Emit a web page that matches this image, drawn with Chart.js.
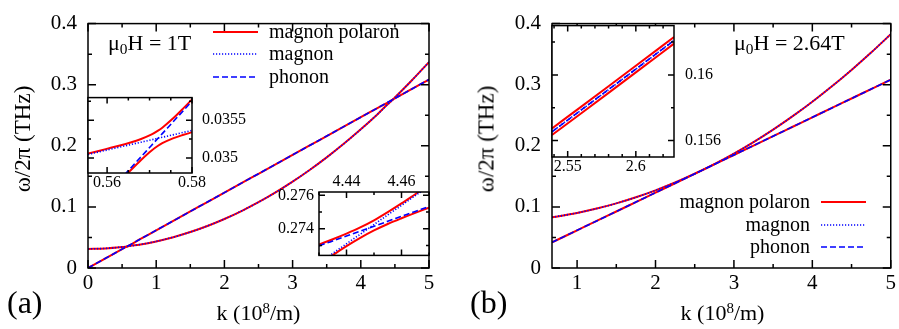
<!DOCTYPE html>
<html>
<head>
<meta charset="utf-8">
<script src="https://cdn.jsdelivr.net/npm/chart.js@4.4.0/dist/chart.umd.min.js"></script>
<style>
  html, body { margin: 0; padding: 0; background: #fff; }
  body { position: relative; width: 899px; height: 329px; overflow: hidden; font-family: 'Liberation Serif'; color: #000; }
  canvas { position: absolute; }
  .txt { position: absolute; white-space: nowrap; line-height: 1; font-family: 'Liberation Serif'; }
  .ytitle { transform: translate(-50%, -50%) rotate(-90deg); font-size: 23px; }
  .xtitle { transform: translateX(-50%); font-size: 22px; }
  .sup { position: relative; top: -0.45em; font-size: 0.68em; }
  .sub { position: relative; top: 0.3em; font-size: 0.7em; }
  .panel { font-size: 32px; }
  .field { font-size: 22px; }
</style>
</head>
<body>
<canvas id="mainA" width="449" height="329" style="left:0;top:0"></canvas>
<canvas id="insetA1" width="175" height="115" style="left:80px;top:78px"></canvas>
<canvas id="insetA2" width="170" height="105" style="left:270px;top:165px"></canvas>
<canvas id="mainB" width="450" height="329" style="left:449px;top:0"></canvas>
<canvas id="insetB1" width="190" height="180" style="left:545px;top:5px"></canvas>

<div class="txt ytitle" style="left:22px;top:139px">ω/2π (THz)</div>
<div class="txt ytitle" style="left:486px;top:139px">ω/2π (THz)</div>
<div class="txt xtitle" style="left:258.5px;top:301.6px">k (10<span class="sup">8</span>/m)</div>
<div class="txt xtitle" style="left:722.5px;top:301.6px">k (10<span class="sup">8</span>/m)</div>
<div class="txt panel" style="left:7px;top:286px">(a)</div>
<div class="txt panel" style="left:470px;top:286px">(b)</div>
<div class="txt field" style="left:108px;top:31.6px">μ<span class="sub">0</span>H = 1T</div>
<div class="txt field" style="left:734px;top:31.6px">μ<span class="sub">0</span>H = 2.64T</div>

<script>
// ---------- panel (a): μ0H = 1 T ----------
const kA = [0, 0.25, 0.5, 0.5722, 0.75, 1, 1.25, 1.5, 1.75, 2, 2.25, 2.5, 2.75, 3, 3.25, 3.5, 3.75, 4, 4.25, 4.4728, 4.5, 4.75, 5];
const magnonA = [0.0313, 0.03206, 0.03436, 0.0353, 0.03818, 0.04353, 0.05041, 0.05882, 0.06875, 0.08022, 0.09321, 0.10774, 0.12379, 0.14137, 0.16048, 0.18112, 0.20328, 0.22698, 0.2522, 0.27597, 0.27896, 0.30724, 0.33705];
const phononA = [0, 0.01543, 0.03085, 0.0353, 0.04628, 0.0617, 0.07713, 0.09255, 0.10798, 0.1234, 0.13883, 0.15425, 0.16968, 0.1851, 0.20053, 0.21595, 0.23138, 0.2468, 0.26223, 0.27597, 0.27765, 0.29308, 0.3085];
const polaronUpA = [0.0313, 0.03206, 0.03436, 0.0353, 0.04628, 0.0617, 0.07713, 0.09255, 0.10798, 0.1234, 0.13883, 0.15425, 0.16968, 0.1851, 0.20053, 0.21595, 0.23138, 0.2468, 0.26223, 0.27597, 0.27896, 0.30724, 0.33705];
const polaronLoA = [0, 0.01543, 0.03085, 0.0353, 0.03818, 0.04353, 0.05041, 0.05882, 0.06875, 0.08022, 0.09321, 0.10774, 0.12379, 0.14137, 0.16048, 0.18112, 0.20328, 0.22698, 0.2522, 0.27597, 0.27765, 0.29308, 0.3085];

// close-up of the low-k anticrossing
const kA1 = [0.5555, 0.558, 0.5605, 0.563, 0.5655, 0.568, 0.5705, 0.572, 0.573, 0.5755, 0.578, 0.58];
const magnonA1 = [0.035046, 0.035079, 0.035111, 0.035144, 0.035176, 0.035209, 0.035241, 0.035261, 0.035274, 0.035306, 0.035339, 0.035365];
const phononA1 = [0.034248, 0.034401, 0.034555, 0.034708, 0.034862, 0.035015, 0.035169, 0.035261, 0.035322, 0.035476, 0.035629, 0.035752];
const polaronUpA1 = [0.035058, 0.035093, 0.035129, 0.035165, 0.035205, 0.035251, 0.035311, 0.035361, 0.035401, 0.035522, 0.03566, 0.035776];
const polaronLoA1 = [0.034236, 0.034387, 0.034537, 0.034686, 0.034833, 0.034973, 0.035099, 0.035161, 0.035195, 0.03526, 0.035307, 0.03534];

// close-up of the high-k anticrossing
const kA2 = [4.43, 4.435, 4.44, 4.445, 4.45, 4.455, 4.46, 4.465, 4.47];
const magnonA2 = [0.27195, 0.27252, 0.2731, 0.27367, 0.27425, 0.27483, 0.2754, 0.27598, 0.27655];
const phononA2 = [0.27297, 0.273265, 0.27356, 0.273855, 0.27415, 0.274445, 0.27474, 0.275035, 0.27533];
const polaronUpA2 = [0.273052, 0.27337, 0.273708, 0.274076, 0.274504, 0.274994, 0.275516, 0.276067, 0.27662];
const polaronLoA2 = [0.271868, 0.272414, 0.272952, 0.273449, 0.273896, 0.274281, 0.274624, 0.274948, 0.27526];

// ---------- panel (b): μ0H = 2.64 T ----------
const kB = [0.68, 0.75, 1, 1.25, 1.5, 1.75, 2, 2.25, 2.5, 2.75, 3, 3.25, 3.5, 3.75, 4, 4.25, 4.5, 4.75, 5];
const magnonB = [0.08311, 0.08445, 0.09013, 0.09725, 0.10578, 0.11575, 0.12714, 0.13996, 0.1542, 0.1699, 0.18719, 0.20606, 0.22652, 0.24857, 0.27221, 0.29743, 0.32424, 0.35264, 0.38263];
const phononB = [0.04192, 0.04624, 0.06165, 0.07706, 0.09248, 0.10789, 0.1233, 0.13871, 0.15413, 0.16954, 0.18495, 0.20036, 0.21578, 0.23119, 0.2466, 0.26201, 0.27743, 0.29284, 0.30825];
const polaronUpB = [0.08311, 0.08445, 0.09013, 0.09725, 0.10578, 0.11575, 0.12714, 0.13996, 0.15433, 0.1699, 0.18719, 0.20606, 0.22652, 0.24857, 0.27221, 0.29743, 0.32424, 0.35264, 0.38263];
const polaronLoB = [0.04192, 0.04624, 0.06165, 0.07706, 0.09248, 0.10789, 0.1233, 0.13871, 0.154, 0.16954, 0.18495, 0.20036, 0.21578, 0.23119, 0.2466, 0.26201, 0.27743, 0.29284, 0.30825];

// close-up near the touching point
const kB1 = [2.5385, 2.56, 2.58, 2.6, 2.628];
const magnonB1 = [0.156545, 0.157864, 0.159101, 0.160348, 0.16211];
const phononB1 = [0.156534, 0.157869, 0.159111, 0.160353, 0.162092];
const polaronUpB1 = [0.15674, 0.158067, 0.159306, 0.160551, 0.162301];
const polaronLoB1 = [0.15634, 0.157666, 0.158906, 0.160151, 0.161901];

// ---------- tick labels ----------
const yTicksMain = [0, 0.1, 0.2, 0.3, 0.4];
const xTicksA = [0, 1, 2, 3, 4, 5];
const xTicksB = [1, 2, 3, 4, 5];
const xTicksA1 = [0.56, 0.58];
const yTicksA1 = [0.035, 0.0355];
const xTicksA2 = [4.44, 4.46];
const yTicksA2 = [0.274, 0.276];
const xTicksB1 = [2.55, 2.6];
const yTicksB1 = [0.156, 0.16];

const legendLabels = ['magnon polaron', 'magnon', 'phonon'];

const SERIF = "'Liberation Serif'";
Chart.defaults.font.family = SERIF;
Chart.defaults.color = '#000';

const STYLE = {
  polaron: { borderColor: '#ff0000', borderWidth: 2, borderDash: [] },
  magnon:  { borderColor: '#0000ff', borderWidth: 1.6, borderDash: [1.2, 1.8] },
  phonon:  { borderColor: '#0000ff', borderWidth: 1.6, borderDash: [6, 3] }
};

function pts(ks, vs) { return ks.map((k, i) => ({ x: k, y: vs[i] })); }

function branchSets(k, up, lo, mag, pho) {
  const common = { pointRadius: 0, fill: false, cubicInterpolationMode: 'monotone', clip: 0 };
  return [
    { label: legendLabels[0], data: pts(k, up), ...STYLE.polaron, ...common, order: 2 },
    { label: legendLabels[0], data: pts(k, lo), ...STYLE.polaron, ...common, order: 2 },
    { label: legendLabels[1], data: pts(k, mag), ...STYLE.magnon, ...common, order: 1 },
    { label: legendLabels[2], data: pts(k, pho), ...STYLE.phonon, ...common, order: 0 }
  ];
}

function axis(position, min, max, labels, size, pad, fontSize) {
  return {
    type: 'linear', position, min, max, bounds: 'data',
    grid: { display: false, drawTicks: false },
    border: { display: false },
    afterBuildTicks: s => { s.ticks = labels.map(v => ({ value: v })); },
    afterFit: s => { if (s.isHorizontal()) s.height = size; else s.width = size; },
    ticks: { autoSkip: false, maxRotation: 0, minRotation: 0, padding: pad,
             font: { family: SERIF, size: fontSize }, color: '#000', callback: v => String(v) }
  };
}

// white plot background (insets), closed border and inward tick marks on all four sides
const framePlugin = {
  id: 'frame',
  beforeDatasetsDraw(chart, args, o) {
    if (!o.fill) return;
    const a = chart.chartArea, ctx = chart.ctx;
    ctx.save(); ctx.fillStyle = o.fill;
    ctx.fillRect(a.left, a.top, a.right - a.left, a.bottom - a.top);
    ctx.restore();
  },
  afterDatasetsDraw(chart, args, o) {
    const { ctx, chartArea: a } = chart;
    const xs = chart.scales.x, ys = chart.scales.y;
    const values = (s, step) => {
      const out = [];
      for (let i = Math.ceil(s.min / step - 1e-6); i * step <= s.max + step * 1e-6; i++) out.push(i * step);
      return out;
    };
    ctx.save();
    ctx.strokeStyle = '#000';
    ctx.lineWidth = o.lineWidth || 1.5;
    ctx.beginPath();
    const xMarks = (step, len) => values(xs, step).forEach(v => {
      const p = xs.getPixelForValue(v);
      ctx.moveTo(p, a.bottom); ctx.lineTo(p, a.bottom - len);
      ctx.moveTo(p, a.top); ctx.lineTo(p, a.top + len);
    });
    const yMarks = (step, len) => values(ys, step).forEach(v => {
      const p = ys.getPixelForValue(v);
      ctx.moveTo(a.left, p); ctx.lineTo(a.left + len, p);
      ctx.moveTo(a.right, p); ctx.lineTo(a.right - len, p);
    });
    xMarks(o.xMinor, o.minorLen); xMarks(o.xMajor, o.majorLen);
    yMarks(o.yMinor, o.minorLen); yMarks(o.yMajor, o.majorLen);
    ctx.stroke();
    ctx.strokeRect(a.left, a.top, a.right - a.left, a.bottom - a.top);
    ctx.restore();
  }
};

// key with one sample line per curve type
const keyPlugin = {
  id: 'key',
  afterDraw(chart, args, o) {
    if (!o.rows) return;
    const ctx = chart.ctx;
    const entries = [0, 2, 3];
    ctx.save();
    ctx.font = o.fontSize + 'px ' + SERIF;
    ctx.fillStyle = '#000';
    ctx.textAlign = o.align;
    ctx.textBaseline = 'alphabetic';
    entries.forEach((di, r) => {
      const ds = chart.data.datasets[di];
      const y = o.rows[r];
      ctx.save();
      ctx.strokeStyle = ds.borderColor; ctx.lineWidth = ds.borderWidth;
      ctx.setLineDash(ds.borderDash || []);
      ctx.beginPath(); ctx.moveTo(o.line[0], y); ctx.lineTo(o.line[1], y); ctx.stroke();
      ctx.restore();
      ctx.fillText(ds.label, o.textX, y + 6);
    });
    ctx.restore();
  }
};

function make(id, datasets, scales, padding, frame, key) {
  return new Chart(document.getElementById(id), {
    type: 'line',
    data: { datasets },
    options: {
      responsive: false, animation: false, devicePixelRatio: 1, events: [],
      layout: { padding },
      plugins: { legend: { display: false }, tooltip: { enabled: false }, frame, key: key || {} },
      scales
    },
    plugins: [framePlugin, keyPlugin]
  });
}

const mainTicks = { xMajor: 1, xMinor: 0.5, yMajor: 0.1, yMinor: 0.05, majorLen: 8, minorLen: 4, lineWidth: 1.5 };

make('mainA', branchSets(kA, polaronUpA, polaronLoA, magnonA, phononA),
  { x: axis('bottom', 0, 5, xTicksA, 61, 3, 21), y: axis('left', 0, 0.4, yTicksMain, 88, 11, 21) },
  { left: 0, right: 20, top: 13, bottom: 0 }, mainTicks,
  { rows: [32, 54, 77], line: [213, 258], textX: 269, align: 'left', fontSize: 20 });

make('insetA1', branchSets(kA1, polaronUpA1, polaronLoA1, magnonA1, phononA1),
  { x: axis('bottom', 0.5555, 0.58, xTicksA1, 20, 0, 16), y: axis('right', 0.0348, 0.0358, yTicksA1, 63, 10, 16) },
  { left: 8, right: 0, top: 7, bottom: 0 },
  { fill: '#fff', xMajor: 0.02, xMinor: 0.005, yMajor: 0.0005, yMinor: 0.00025, majorLen: 6, minorLen: 3, lineWidth: 1.5 });

make('insetA2', branchSets(kA2, polaronUpA2, polaronLoA2, magnonA2, phononA2),
  { x: axis('top', 4.43, 4.47, xTicksA2, 27, 1, 16), y: axis('left', 0.2724, 0.2762, yTicksA2, 49, 5, 16) },
  { left: 0, right: 11, top: 0, bottom: 2 },
  { fill: '#fff', xMajor: 0.02, xMinor: 0.01, yMajor: 0.002, yMinor: 0.001, majorLen: 6, minorLen: 3, lineWidth: 1.5 });

make('mainB', branchSets(kB, polaronUpB, polaronLoB, magnonB, phononB),
  { x: axis('bottom', 0.68, 5, xTicksB, 61, 3, 21), y: axis('left', 0, 0.4, yTicksMain, 103, 11, 21) },
  { left: 0, right: 6, top: 13, bottom: 0 }, mainTicks,
  { rows: [202, 225, 247], line: [372, 417], textX: 361, align: 'right', fontSize: 20 });

make('insetB1', branchSets(kB1, polaronUpB1, polaronLoB1, magnonB1, phononB1),
  { x: axis('bottom', 2.5385, 2.628, xTicksB1, 28, 0, 16), y: axis('right', 0.155, 0.163, yTicksB1, 61, 11, 16) },
  { left: 7, right: 0, top: 8, bottom: 0 },
  { fill: '#fff', xMajor: 0.05, xMinor: 0.01, yMajor: 0.004, yMinor: 0.002, majorLen: 6, minorLen: 3, lineWidth: 1.5 });
</script>
</body>
</html>
